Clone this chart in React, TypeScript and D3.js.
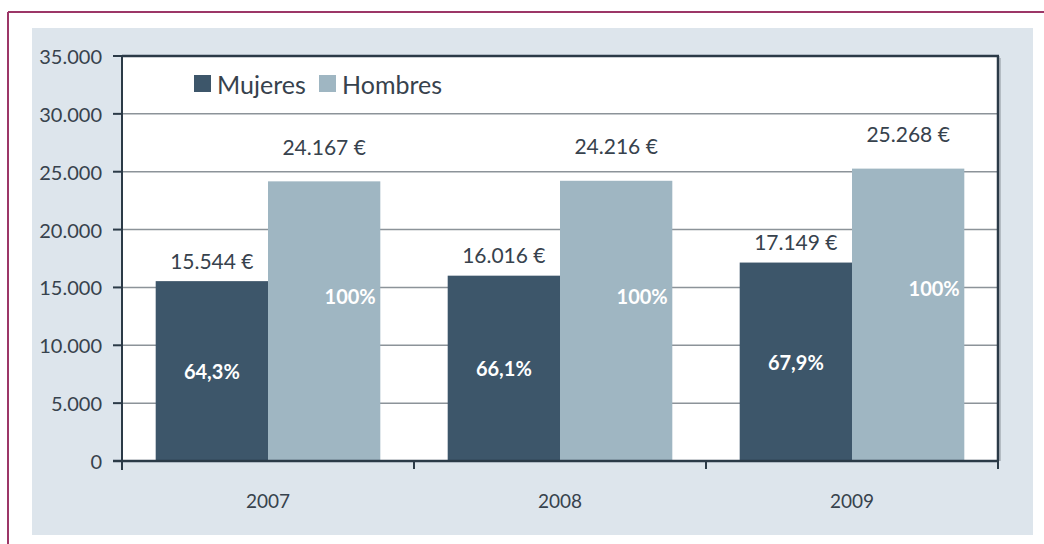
import React from "react";
import * as d3 from "d3";

const years = ["2007", "2008", "2009"];
const seriesNames = ["Mujeres", "Hombres"];
const mujeres = [15544, 16016, 17149];
const hombres = [24167, 24216, 25268];
const mujeresPct = ["64,3%", "66,1%", "67,9%"];
const hombresPct = ["100%", "100%", "100%"];
const yTicks = [0, 5000, 10000, 15000, 20000, 25000, 30000, 35000];

const W = 1044;
const H = 544;
const FONT = "Lato, 'Open Sans', sans-serif";
const DARK = "#3d566a";
const LIGHT = "#9fb6c2";
const TEXT = "#37424d";
const AXIS = "#2b3a47";

export default function App() {
  const left = 122, right = 998, top = 56, bottom = 461;
  const y = d3.scaleLinear().domain([0, 35000]).range([bottom, top]);
  const x0 = d3.scaleBand<string>().domain(years).range([left, right]).padding(0);
  const x1 = d3.scaleBand<string>().domain(seriesNames).range([0, x0.bandwidth()]).paddingInner(0).paddingOuter(0.3);
  const fmt = (v: number) => d3.format(",")(v).replace(/,/g, ".") + " €";
  const yFmt = (v: number) => (v === 0 ? "0" : d3.format(",")(v).replace(/,/g, "."));
  const series = [
    { name: "Mujeres", values: mujeres, color: DARK, pct: mujeresPct },
    { name: "Hombres", values: hombres, color: LIGHT, pct: hombresPct },
  ];
  const boundaries = [...years.map((yr) => x0(yr) as number), right];

  return (
    <svg width={W} height={H} style={{ position: "absolute", left: 0, top: 0 }} fontFamily={FONT}>
      <rect x={0} y={0} width={W} height={H} fill="#ffffff" />
      <line x1={8} x2={W} y1={12} y2={12} stroke="#9c3667" strokeWidth={2} />
      <line x1={8} x2={8} y1={12} y2={H} stroke="#9c3667" strokeWidth={2} />
      <rect x={32} y={28} width={1001} height={507} fill="#dde5ec" />
      <rect x={left} y={top} width={right - left} height={bottom - top} fill="#ffffff" />
      {yTicks.filter((t) => t > 0 && t < 35000).map((t) => (
        <line key={"g" + t} x1={left} x2={right} y1={y(t)} y2={y(t)} stroke="#8c9399" strokeWidth={1.5} />
      ))}
      <line x1={left} x2={right + 1} y1={top} y2={top} stroke={AXIS} strokeWidth={2.5} />
      <line x1={right} x2={right} y1={top} y2={bottom} stroke={AXIS} strokeWidth={2.5} />
      <line x1={right + 2} x2={right + 2} y1={top + 2} y2={bottom} stroke="#8c9399" strokeWidth={1} />
      {series.map((s) =>
        years.map((yr, i) => (
          <rect
            key={s.name + yr}
            x={(x0(yr) as number) + (x1(s.name) as number)}
            y={y(s.values[i])}
            width={x1.bandwidth()}
            height={bottom - y(s.values[i])}
            fill={s.color}
          />
        ))
      )}
      {/* axes */}
      <line x1={left} x2={left} y1={top} y2={470} stroke={AXIS} strokeWidth={2} />
      <line x1={113} x2={right} y1={bottom} y2={bottom} stroke={AXIS} strokeWidth={2.5} />
      {yTicks.map((t) => (
        <g key={"t" + t}>
          <line x1={113} x2={left} y1={y(t)} y2={y(t)} stroke={AXIS} strokeWidth={2} />
          <text x={102} y={y(t)} textAnchor="end" dominantBaseline="central" fontSize={20} fill={TEXT}>
            {yFmt(t)}
          </text>
        </g>
      ))}
      {boundaries.map((b, i) => (
        <line key={"xt" + i} x1={b} x2={b} y1={bottom} y2={469} stroke={AXIS} strokeWidth={2} />
      ))}
      {years.map((yr) => (
        <text key={"xl" + yr} x={(x0(yr) as number) + x0.bandwidth() / 2} y={500} textAnchor="middle" dominantBaseline="central" fontSize={19} fill={TEXT}>
          {yr}
        </text>
      ))}
      {/* value labels */}
      {years.map((yr, i) => {
        const bx = (x0(yr) as number) + (x1("Mujeres") as number);
        const hx = (x0(yr) as number) + (x1("Hombres") as number);
        const bw = x1.bandwidth();
        const mTop = y(mujeres[i]);
        const hTop = y(hombres[i]);
        return (
          <g key={"lab" + yr}>
            <text x={bx + bw / 2} y={mTop - 21} textAnchor="middle" dominantBaseline="central" fontSize={21} fill={TEXT}>
              {fmt(mujeres[i])}
            </text>
            <text x={hx + bw / 2} y={hTop - 35} textAnchor="middle" dominantBaseline="central" fontSize={21} fill={TEXT}>
              {fmt(hombres[i])}
            </text>
            <text x={bx + bw / 2} y={(mTop + bottom) / 2} textAnchor="middle" dominantBaseline="central" fontSize={20} fontWeight={700} fill="#ffffff">
              {mujeresPct[i]}
            </text>
            <text x={hx + bw / 2 + 26} y={bottom - 0.59 * (bottom - hTop)} textAnchor="middle" dominantBaseline="central" fontSize={20} fontWeight={700} fill="#ffffff">
              {hombresPct[i]}
            </text>
          </g>
        );
      })}
      {/* legend */}
      <rect x={194} y={75} width={17} height={17} fill={DARK} />
      <text x={217} y={84} dominantBaseline="central" fontSize={25} fill={TEXT}>Mujeres</text>
      <rect x={319} y={75} width={17} height={17} fill={LIGHT} />
      <text x={342} y={84} dominantBaseline="central" fontSize={25} fill={TEXT}>Hombres</text>
    </svg>
  );
}
